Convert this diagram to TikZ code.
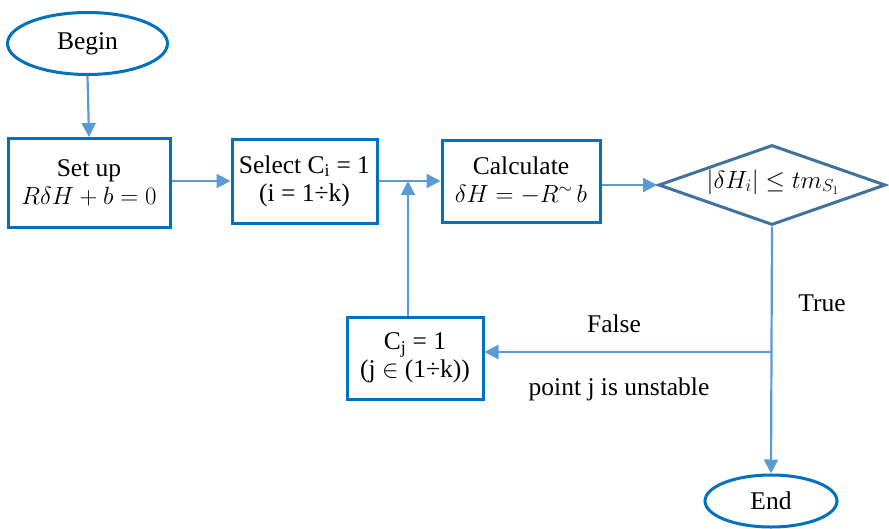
\documentclass[tikz,border=0pt]{standalone}
\usepackage{fontspec}
\setmainfont{Liberation Serif}
\newfontfamily\tnr{Liberation Serif}
\usetikzlibrary{shapes.geometric,arrows.meta}
\definecolor{boxblue}{RGB}{0,112,192}
\definecolor{arrblue}{RGB}{91,155,213}
\definecolor{decblue}{RGB}{65,113,156}
\tikzset{
  every node/.style={font=\tnr\fontsize{25.5}{28}\selectfont, align=center},
  termbox/.style={ellipse, draw=boxblue, line width=3pt, inner sep=0pt},
  procbox/.style={rectangle, draw=boxblue, line width=3pt, inner sep=0pt},
  decbox/.style={diamond, draw=decblue, line width=3pt, inner sep=0pt},
  flow/.style={draw=arrblue, line width=2.2pt, -{Triangle[length=14pt,width=14pt]}},
}
\begin{document}
\begin{tikzpicture}[x=1pt,y=-1pt]
\useasboundingbox (0,0) rectangle (889,528);
\node[termbox, minimum width=160pt, minimum height=62pt] (begin) at (87.5,43.5) {Begin};
\node[procbox, minimum width=162pt, minimum height=89pt] (setup) at (89,183) {Set up\\$R\delta H + b = 0$};
\node[procbox, minimum width=145pt, minimum height=84pt] (select) at (304.5,181) {Select C\textsubscript{i} = 1\\(i = 1÷k)};
\node[procbox, minimum width=158pt, minimum height=82pt] (calc) at (521,181) {Calculate\\$\delta H = -R^{\sim}\,b$};
\node[decbox, minimum width=227pt, minimum height=80pt] (dec) at (772,185) {};
\node (dectext) at (773,182) {$|\delta H_i| \le tm_{S_1}$};
\node[procbox, minimum width=136pt, minimum height=82pt] (cj) at (415,358) {C\textsubscript{j} = 1\\(j $\in$ (1÷k))};
\node[termbox, minimum width=132pt, minimum height=52pt] (end) at (771,501) {End};
\coordinate (br) at (dec.south |- 0,352);

\draw[flow] (begin.south) -- (setup.north);
\draw[flow] (setup.east |- select.west) -- (select.west);
\draw[flow] (select.east) -- (calc.west);
\draw[flow] (calc.east |- dec.west) -- (dec.west);
\draw[flow] ([xshift=-7pt]cj.north) -- ([xshift=-7pt]cj.north |- select.east);
\draw[flow] (dec.south) -- (end.north);
\draw[flow] (br) -- (cj.east |- br);

\node (true) at (822,303) {True};
\node (false) at (614,324) {False};
\node (unstable) at (619,389) {point j is unstable};
\end{tikzpicture}
\end{document}
